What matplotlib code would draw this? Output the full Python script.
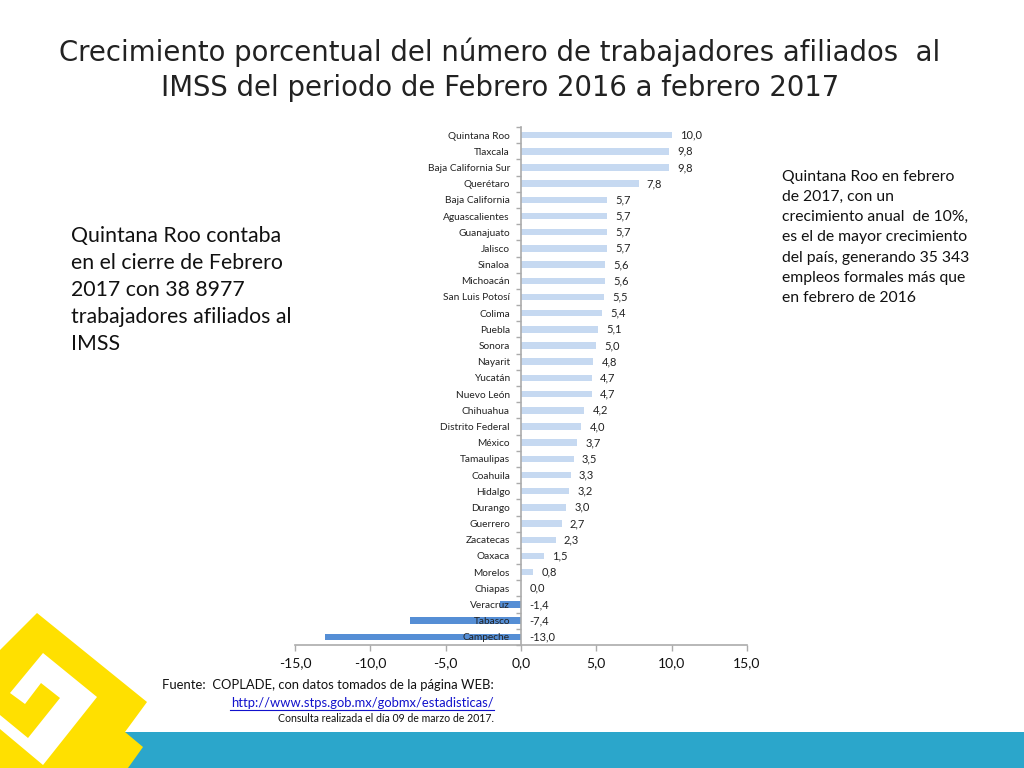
import matplotlib
matplotlib.use("Agg")
import matplotlib.pyplot as plt
from matplotlib.patches import Polygon, Rectangle
import numpy as np

plt.rcParams['font.family'] = ['Lato', 'DejaVu Sans']

estados = ['Quintana Roo', 'Tlaxcala', 'Baja California Sur', 'Querétaro', 'Baja California',
           'Aguascalientes', 'Guanajuato', 'Jalisco', 'Sinaloa', 'Michoacán', 'San Luis Potosí',
           'Colima', 'Puebla', 'Sonora', 'Nayarit', 'Yucatán', 'Nuevo León', 'Chihuahua',
           'Distrito Federal', 'México', 'Tamaulipas', 'Coahuila', 'Hidalgo', 'Durango',
           'Guerrero', 'Zacatecas', 'Oaxaca', 'Morelos', 'Chiapas', 'Veracruz', 'Tabasco', 'Campeche']
crecimiento = [10.0, 9.8, 9.8, 7.8, 5.7, 5.7, 5.7, 5.7, 5.6, 5.6, 5.5, 5.4, 5.1, 5.0, 4.8, 4.7,
               4.7, 4.2, 4.0, 3.7, 3.5, 3.3, 3.2, 3.0, 2.7, 2.3, 1.5, 0.8, 0.0, -1.4, -7.4, -13.0]
xticks = [-15, -10, -5, 0, 5, 10, 15]

W, H = 1024, 768
fig = plt.figure(figsize=(W / 100, H / 100), dpi=100, facecolor='white')

# background shapes, in pixel coordinates
bg = fig.add_axes([0, 0, 1, 1])
bg.set_xlim(0, W)
bg.set_ylim(H, 0)
bg.axis('off')
bg.add_patch(Rectangle((125, 732), 899, 36, color='#2BA6CB', lw=0))
bg.add_patch(Polygon([(0, 650), (37, 613), (147, 702), (125, 732), (143, 747), (128, 768), (0, 768)],
                     color='#FFE000', lw=0))
bg.add_patch(Polygon([(43, 653), (97, 697), (43, 765), (0, 729), (0, 715), (28, 738), (60, 698),
                      (41, 683), (25, 704), (10, 693)], color='white', lw=0))

# chart
left, right, top, bottom = 295, 747, 127, 645
ax = fig.add_axes([left / W, 1 - bottom / H, (right - left) / W, (bottom - top) / H])
ax.patch.set_alpha(0)
y = np.arange(len(estados))
colores = ['#C6D9F1' if v >= 0 else '#558ED5' for v in crecimiento]
ax.barh(y, crecimiento, height=0.4, color=colores, zorder=1)
ax.set_xlim(-15, 15)
ax.set_ylim(len(estados) - 0.5, -0.5)

for s in ['top', 'right']:
    ax.spines[s].set_visible(False)
ax.spines['left'].set_position(('data', 0))
ax.spines['left'].set_color('#ABABAB')
ax.spines['bottom'].set_color('#ABABAB')
ax.spines['left'].set_linewidth(1.2)
ax.spines['bottom'].set_linewidth(1.2)

ax.set_yticks(y)
ax.set_yticklabels(estados, fontsize=7.3, color='#222222')
ax.tick_params(axis='y', which='major', length=0, pad=8)
ax.set_yticks(np.arange(len(estados) + 1) - 0.5, minor=True)
ax.tick_params(axis='y', which='minor', length=3.5, color='#ABABAB', width=1)
ax.set_xticks(xticks)
ax.set_xticklabels([f'{v:.1f}'.replace('.', ',') for v in xticks], fontsize=10, color='#111111')
ax.tick_params(axis='x', length=4, color='#ABABAB', width=1, pad=4.5)

for yi, v in zip(y, crecimiento):
    ax.annotate(f'{v:.1f}'.replace('.', ','), (max(v, 0), yi), xytext=(6, 0),
                textcoords='offset points', va='center', ha='left', fontsize=8, color='#222222')

# texts, in pixel coordinates
bg.text(500, 70, 'Crecimiento porcentual del número de trabajadores afiliados  al\n'
        'IMSS del periodo de Febrero 2016 a febrero 2017', ha='center', va='center',
        fontsize=19.8, family='DejaVu Sans', color='#222222', linespacing=1.32)
bg.text(71, 290, 'Quintana Roo contaba\nen el cierre de Febrero\n2017 con 38 8977\n'
        'trabajadores afiliados al\nIMSS', ha='left', va='center', fontsize=15.3,
        color='#111111', linespacing=1.45)
bg.text(782, 237.5, 'Quintana Roo en febrero\nde 2017, con un\ncrecimiento anual  de 10%,\n'
        'es el de mayor crecimiento\ndel país, generando 35 343\nempleos formales más que\n'
        'en febrero de 2016', ha='left', va='center', fontsize=11.3, color='#111111', linespacing=1.56)
bg.text(494, 685, 'Fuente:  COPLADE, con datos tomados de la página WEB:', ha='right', va='center',
        fontsize=9.4, color='#111111')
bg.text(494, 703, 'http://www.stps.gob.mx/gobmx/estadisticas/', ha='right', va='center',
        fontsize=9.4, color='#1111CC')
bg.plot([230, 494], [710, 710], color='#1111CC', lw=0.8)
bg.text(494, 718, 'Consulta realizada el día 09 de marzo de 2017.', ha='right', va='center',
        fontsize=7.6, color='#111111')

fig.savefig('out.png', dpi=100)
